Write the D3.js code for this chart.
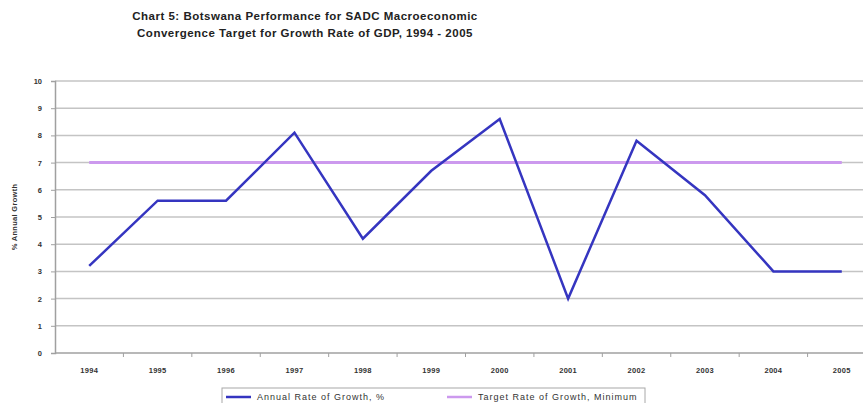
<!DOCTYPE html>
<html>
<head>
<meta charset="utf-8">
<script src="https://cdn.jsdelivr.net/npm/d3@7"></script>
<style>
  body { margin: 0; background: #fff; }
  svg { display: block; font-family: "Liberation Sans", Arial, sans-serif; }
</style>
</head>
<body>
<svg class="chart" width="863" height="403"></svg>
<script>
var years = ["1994", "1995", "1996", "1997", "1998", "1999", "2000", "2001", "2002", "2003", "2004", "2005"];
var growth = [3.2, 5.6, 5.6, 8.1, 4.2, 6.7, 8.6, 2.0, 7.8, 5.8, 3.0, 3.0];
var target = [7, 7, 7, 7, 7, 7, 7, 7, 7, 7, 7, 7];
var yTicks = [0, 1, 2, 3, 4, 5, 6, 7, 8, 9, 10];
var titleLines = ["Chart 5: Botswana Performance for SADC Macroeconomic",
                  "Convergence Target for Growth Rate of GDP, 1994 - 2005"];
var legendLabels = ["Annual Rate of Growth, %", "Target Rate of Growth, Minimum"];

// plot box (the chart runs past the right edge of the picture)
var plotLeft = 55, plotRight = 876, plotTop = 81, plotBottom = 353;

var svg = d3.select('.chart');

var x = d3.scaleBand()
    .domain(years)
    .range([plotLeft, plotRight]);

var y = d3.scaleLinear()
    .domain([0, 10])
    .range([plotBottom, plotTop]);

// title
svg.append('g').selectAll('text')
    .data(titleLines)
    .enter().append('text')
    .attr('x', 305)
    .attr('y', function(d, i) { return 20 + i * 17; })
    .attr('text-anchor', 'middle')
    .style('font-size', '11.5px')
    .style('font-weight', 'bold')
    .style('letter-spacing', '0.5px')
    .style('fill', '#222')
    .text(function(d) { return d; });

// gridlines
svg.append('g').selectAll('line')
    .data(yTicks.filter(function(d) { return d > 0; }))
    .enter().append('line')
    .attr('x1', plotLeft).attr('x2', plotRight)
    .attr('y1', function(d) { return y(d); })
    .attr('y2', function(d) { return y(d); })
    .style('stroke', '#c4c4c4')
    .style('stroke-width', 1.5);

// y axis
var yAxis = d3.axisLeft(y).tickValues(yTicks).tickSize(4).tickPadding(9);
var gy = svg.append('g')
    .attr('transform', 'translate(' + plotLeft + ',0)')
    .call(yAxis);
gy.select('.domain').style('stroke', '#a0a0a0').style('stroke-width', 1.5);
gy.selectAll('.tick line').style('stroke', '#a0a0a0');
gy.selectAll('text').style('font-size', '7.5px').style('font-weight', 'bold').style('fill', '#333')
    .style('font-family', '"Liberation Sans", Arial, sans-serif');

// x axis, ticks between categories
var gx = svg.append('g')
    .attr('transform', 'translate(0,' + plotBottom + ')');
gx.append('line')
    .attr('x1', plotLeft).attr('x2', plotRight)
    .style('stroke', '#a0a0a0').style('stroke-width', 1.5);
gx.selectAll('.sep')
    .data(years)
    .enter().append('line')
    .attr('x1', function(d) { return x(d) + x.bandwidth(); })
    .attr('x2', function(d) { return x(d) + x.bandwidth(); })
    .attr('y1', 0).attr('y2', 4)
    .style('stroke', '#a0a0a0');
gx.selectAll('text')
    .data(years)
    .enter().append('text')
    .attr('x', function(d) { return x(d) + x.bandwidth() / 2; })
    .attr('y', 20)
    .attr('text-anchor', 'middle')
    .style('font-size', '7.5px')
    .style('font-weight', 'bold')
    .style('letter-spacing', '0.3px')
    .style('fill', '#333')
    .text(function(d) { return d; });

// y title
svg.append('text')
    .attr('transform', 'translate(17,' + ((plotTop + plotBottom) / 2) + ') rotate(-90)')
    .attr('text-anchor', 'middle')
    .style('font-size', '7.5px')
    .style('font-weight', 'bold')
    .style('letter-spacing', '0.3px')
    .style('fill', '#333')
    .text('% Annual Growth');

var line = d3.line()
    .x(function(d, i) { return x(years[i]) + x.bandwidth() / 2; })
    .y(function(d) { return y(d); });

svg.append('path')
    .datum(target)
    .attr('d', line)
    .style('fill', 'none')
    .style('stroke', '#cc99ee')
    .style('stroke-width', 3);

svg.append('path')
    .datum(growth)
    .attr('d', line)
    .style('fill', 'none')
    .style('stroke', '#3535c0')
    .style('stroke-width', 2.5)
    .style('stroke-linejoin', 'miter');

// legend
var lg = svg.append('g');
lg.append('rect')
    .attr('x', 222).attr('y', 388)
    .attr('width', 423).attr('height', 30)
    .style('fill', '#fff')
    .style('stroke', '#a8a8a8');
var legendColors = ['#3535c0', '#cc99ee'];
var legendX = [226, 447];
lg.selectAll('.key')
    .data(legendLabels)
    .enter().append('line')
    .attr('x1', function(d, i) { return legendX[i]; })
    .attr('x2', function(d, i) { return legendX[i] + 25; })
    .attr('y1', 397).attr('y2', 397)
    .style('stroke', function(d, i) { return legendColors[i]; })
    .style('stroke-width', 2.5);
lg.selectAll('text')
    .data(legendLabels)
    .enter().append('text')
    .attr('x', function(d, i) { return legendX[i] + 31; })
    .attr('y', 400)
    .style('font-size', '9px')
    .style('letter-spacing', '1px')
    .style('fill', '#333')
    .text(function(d) { return d; });
</script>
</body>
</html>
